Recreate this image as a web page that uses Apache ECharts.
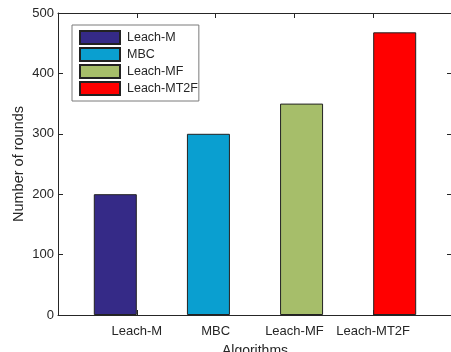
<!DOCTYPE html>
<html>
<head>
<meta charset="utf-8">
<script src="https://cdn.jsdelivr.net/npm/echarts@6/dist/echarts.min.js"></script>
<style>
html,body{margin:0;padding:0;background:#fff;}
#chart{width:451px;height:352px;}
</style>
</head>
<body>
<div id="chart"></div>
<script>
// Data
var categories = ['Leach-M', 'MBC', 'Leach-MF', 'Leach-MT2F'];
var seriesNames = ['Leach-M', 'MBC', 'Leach-MF', 'Leach-MT2F'];
var values = [200, 300, 350, 468];
var colors = ['#352a87', '#0a9fd0', '#a6be6a', '#ff0000'];
var yTicks = [0, 100, 200, 300, 400, 500];

// MATLAB-style grouped bar positions (diagonal data: series i in group i)
var n = seriesNames.length;
var groupWidth = Math.min(0.8, n / (n + 1.5));
function barPos(i) { return (i + 1) + (i - (n - 1) / 2) * groupWidth / n; }

var chart = echarts.init(document.getElementById('chart'), null, {renderer: 'canvas'});
var axisColor = '#262626';
var font = 'Liberation Sans, Arial, Helvetica, sans-serif';

var series = seriesNames.map(function (name, i) {
  return {
    name: name,
    type: 'bar',
    barWidth: 43,
    barGap: '-100%',
    data: [[barPos(i), values[i]]],
    itemStyle: {color: colors[i], borderColor: '#222', borderWidth: 1},
    emphasis: {disabled: true},
    animation: false
  };
});

function lineStyle() { return {show: true, onZero: false, lineStyle: {color: axisColor, width: 1}}; }
function tickStyle() { return {show: true, inside: true, length: 5, lineStyle: {color: axisColor}}; }

chart.setOption({
  animation: false,
  grid: {left: 58, top: 13, width: 394, height: 302, containLabel: false, outerBoundsMode: 'none'},
  legend: {
    orient: 'vertical',
    left: 72, top: 25,
    data: seriesNames,
    itemWidth: 40, itemHeight: 13, itemGap: 2,
    padding: [5, 1, 5, 7],
    borderColor: '#7a7a7a', borderWidth: 1,
    backgroundColor: '#fff',
    icon: 'rect',
    selectedMode: false,
    textStyle: {fontFamily: font, fontSize: 12.5, lineHeight: 13, color: '#262626', padding: [0, 0, 0, 2]}
  },
  xAxis: [{
    type: 'value', min: 0, max: 5, interval: 1,
    name: 'Algorithms', nameLocation: 'middle', nameGap: 29, nameMoveOverlap: false,
    nameTextStyle: {fontFamily: font, fontSize: 14, color: axisColor},
    axisLine: lineStyle(),
    axisTick: tickStyle(),
    axisLabel: {
      fontFamily: font, fontSize: 13, color: axisColor, margin: 10,
      formatter: function (v) { return (v >= 1 && v <= categories.length) ? categories[v - 1] : ''; }
    },
    splitLine: {show: false}
  }, {
    type: 'value', min: 0, max: 5, interval: 1, position: 'top',
    axisLine: lineStyle(),
    axisTick: tickStyle(),
    axisLabel: {show: false},
    splitLine: {show: false}
  }],
  yAxis: [{
    type: 'value', min: yTicks[0], max: yTicks[yTicks.length - 1], interval: 100,
    name: 'Number of rounds', nameLocation: 'middle', nameGap: 32, nameMoveOverlap: false,
    nameTextStyle: {fontFamily: font, fontSize: 14.5, color: axisColor},
    axisLine: lineStyle(),
    axisTick: tickStyle(),
    axisLabel: {fontFamily: font, fontSize: 13, color: axisColor, margin: 4},
    splitLine: {show: false}
  }, {
    type: 'value', min: yTicks[0], max: yTicks[yTicks.length - 1], interval: 100, position: 'right',
    axisLine: lineStyle(),
    axisTick: tickStyle(),
    axisLabel: {show: false},
    splitLine: {show: false}
  }],
  series: series
});
</script>
</body>
</html>
